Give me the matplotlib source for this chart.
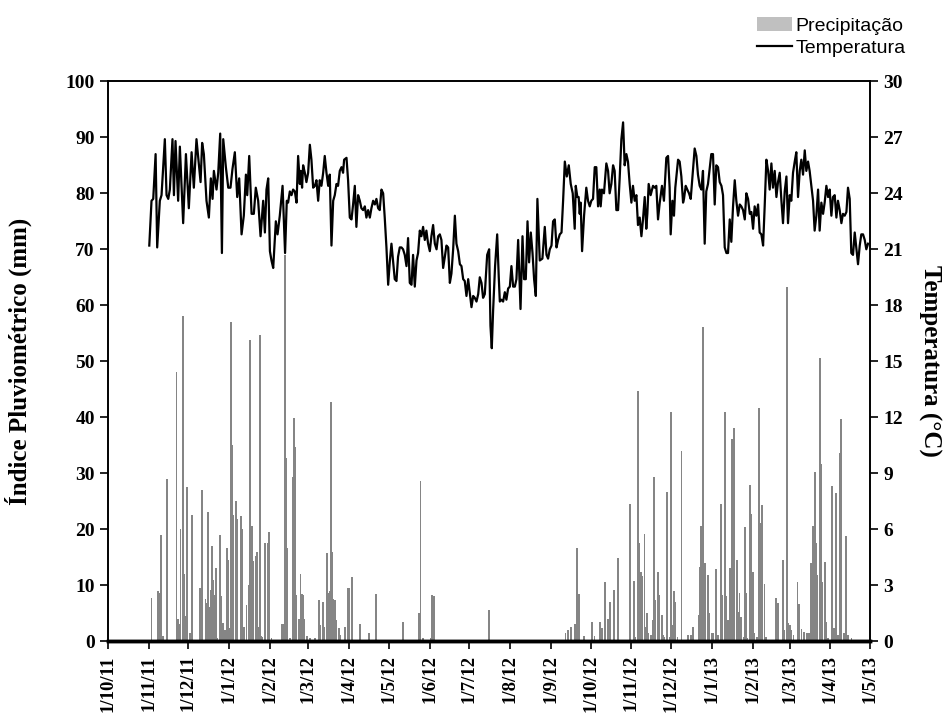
import pandas as pd
import matplotlib
matplotlib.use("Agg")
import matplotlib.pyplot as plt
from matplotlib.patches import Patch
from matplotlib.lines import Line2D

inicio = pd.Timestamp("2011-11-01")

# precipitação diária (mm), dias contados a partir de 1/11/11
chuva_dia = [2, 7, 8, 9, 11, 14, 21, 22, 23, 24, 26, 27, 28, 29, 31, 33, 35, 39, 40,
             43, 44, 45, 46, 47, 48, 49, 50, 51, 52, 54, 55, 56, 58, 59, 60, 61, 62, 63,
             64, 66, 67, 70, 71, 72, 74, 76, 77, 78, 79, 81, 82, 83, 84, 85, 86, 88, 90,
             91, 93, 101, 102, 103, 104, 105, 107, 109, 110, 111, 112, 114, 115, 116,
             117, 118, 120, 122, 126, 129, 130, 132, 133, 135, 136, 137, 138, 139, 140,
             141, 142, 144, 145, 149, 151, 152, 154, 160, 167, 172,
             193, 205, 206, 208, 214, 215, 216, 258, 316, 318, 320, 323, 325, 326, 330,
             336, 338,
             342, 344, 346, 348, 350, 353, 356, 358, 365, 368, 369, 371, 372, 373, 374,
             376, 377, 378, 379, 381, 382, 383, 384, 386, 387, 389, 390, 391, 393, 395,
             396, 397, 398, 399, 401, 404, 405, 409, 411, 413, 417, 418, 419, 420, 422,
             424, 425, 427, 428, 430, 432, 434, 435, 437, 438, 439, 441, 442, 443, 444,
             446, 447, 448, 449, 451, 452, 453, 454, 456, 457, 458, 459, 461, 463, 464,
             465, 467, 468, 476, 477, 481, 482, 484, 485, 486, 487, 489, 492, 493, 495,
             497, 499, 501, 502, 504, 505, 506, 507, 509, 510, 511, 513, 514, 515, 518,
             520, 521, 523, 524, 525, 527, 528, 529, 530, 533]
chuva_mm = [7.7, 8.9, 8.6, 19.0, 1.0, 29.0, 48.0, 4.0, 3.0, 20.0, 58.0, 12.0, 4.5, 27.5,
            1.5, 22.5, 0.3, 9.5, 27.0,
            7.5, 6.8, 23.1, 6.2, 9.2, 17.0, 11.0, 8.3, 13.0, 0.5, 19.0, 8.0, 3.2, 2.0,
            16.6, 14.5, 2.3, 57.1, 35.0,
            22.5, 25.0, 21.8, 22.3, 20.0, 2.5, 6.5, 10.0, 53.8, 20.5, 14.3, 15.2, 16.0,
            2.6, 54.7, 1.0, 0.8, 17.5, 17.5,
            19.5, 0.5, 3.0, 3.0, 69.0, 32.7, 16.6, 0.5, 29.4, 39.8, 34.7, 8.3, 4.0, 12.1,
            8.5,
            8.2, 4.0, 1.0, 0.5, 0.5, 7.4, 2.9, 7.1, 2.6, 15.7, 8.6, 8.9, 42.8, 16.0, 7.6,
            7.3, 3.8, 2.3, 1.1, 2.6, 9.5, 9.6, 11.5, 3.0, 1.4, 8.5,
            3.5, 5.0, 28.7, 0.5, 0.5, 8.2, 8.0, 5.6, 1.5, 2.0, 2.5, 3.0, 16.7, 8.5, 1.0,
            3.5, 1.0,
            3.5, 2.3, 10.6, 4.0, 7.1, 9.2, 14.8, 0.3, 24.6, 10.8, 0.8, 44.7, 17.6, 12.4,
            11.6,
            19.2, 2.6, 5.0, 1.4, 1.1, 3.8, 29.4, 7.4, 12.3, 8.3, 4.7, 1.1, 0.8, 26.6, 0.8,
            40.9, 2.9, 8.9, 7.1, 0.8, 33.9, 0.3, 1.1, 1.1, 2.6, 4.7, 13.3, 20.6, 56.2,
            13.9,
            11.8, 5.0, 1.4, 1.4, 12.9, 1.1, 24.6, 8.3, 40.9, 8.0, 3.8, 13.1, 36.2, 2.3,
            38.0,
            14.6, 5.3, 8.6, 4.4, 0.8, 20.4, 8.6, 0.5, 27.9, 22.7, 12.4, 1.4, 0.8, 41.7,
            21.1,
            24.3, 10.3, 0.8, 7.7, 6.8, 14.5, 2.0, 63.3, 3.2, 2.9, 2.0, 1.1, 10.5, 6.7, 2.2,
            1.7, 1.4, 1.4, 14.0, 20.5, 30.2, 17.6, 11.8, 50.6, 31.6, 10.6, 14.2, 3.5, 0.5,
            27.8,
            2.3, 26.4, 1.1, 33.6, 39.7, 1.4, 0.8, 18.8, 1.1, 0.5]

# temperatura média diária (°C)
temp_dia = [0.3, 2.0, 3.3, 5.1, 6.3, 8.3, 9.6, 12.1, 13.4, 14.7, 15.9, 17.9, 19.0, 20.2,
            22.2, 23.5, 26.0, 28.1, 30.3, 32.4, 34.1, 36.1, 39.2, 40.4, 41.7, 43.7, 45.5,
            47.0, 48.3, 49.3, 51.3, 52.6, 54.1, 55.4, 56.4, 58.4, 60.2, 61.9, 63.4, 65.2,
            67.0, 68.5, 70.3, 72.0, 73.6, 74.6, 76.1, 77.9, 79.6, 81.1, 82.9, 84.7, 86.7,
            88.0, 89.2, 90.5, 91.8, 93.0, 94.3, 96.3, 97.6, 99.3, 101.4, 103.3, 104.6,
            105.6, 106.9, 108.2, 109.4, 110.7, 112.0, 113.2, 114.5, 115.2, 116.2, 117.0,
            118.3, 119.5, 120.8, 122.1, 123.3, 124.6, 125.9, 127.1, 128.4, 129.6, 130.9,
            132.2, 133.4, 134.7, 136.0, 137.2, 138.5, 139.8, 141.0, 142.3, 143.5, 144.8,
            146.1, 147.3, 148.1, 149.9, 151.1, 152.4, 153.7, 154.9, 156.2, 157.4, 158.7,
            160.0, 161.2, 162.5, 163.8, 165.0, 166.3, 167.6, 168.8, 170.1, 171.4, 172.6,
            173.9, 175.1, 176.4, 177.7, 178.9, 180.2, 181.5, 182.7, 184.0, 185.3, 186.5,
            187.8, 189.0, 190.3, 191.6, 192.8, 194.1, 195.4, 196.6, 197.9, 199.2, 200.4,
            201.7, 203.0, 204.2, 205.5, 206.7, 208.0, 209.3, 210.5, 211.8, 213.1, 214.3,
            215.6, 216.9, 218.2, 219.4, 220.7, 221.9, 223.2, 224.5, 225.7, 227.0, 228.3,
            229.5, 230.8, 232.1, 233.3, 234.6, 235.9, 237.1, 238.4, 239.6, 240.9, 242.2,
            243.4, 244.7, 246.0, 247.2, 248.5, 249.8, 251.0, 252.3, 253.5, 254.8, 256.6,
            258.1, 259.1, 260.1, 261.1, 262.6, 264.2, 265.4, 266.2, 267.4, 268.7, 270.0,
            271.2, 272.5, 273.8, 275.0, 276.3, 277.6, 278.8, 280.1, 281.9, 283.4, 284.6,
            285.9, 287.2, 288.4, 289.7, 291.0, 292.2, 293.5, 294.7, 296.5, 298.5, 300.3,
            301.6, 302.8, 304.1, 305.4, 306.6, 307.9, 309.2, 310.4, 311.7, 313.0, 314.2,
            315.5, 317.0, 318.5, 320.0, 321.5, 323.0, 323.8, 325.0, 326.0, 326.8, 327.5,
            328.6, 330.1, 331.8, 333.1, 334.4, 335.6, 336.9, 338.2, 339.4, 340.7, 342.0,
            342.7, 343.7, 345.2, 347.0, 348.3, 349.5, 350.8, 352.1, 353.3, 354.6, 355.9,
            357.1, 358.4, 359.7, 360.9, 362.2, 363.4, 364.7, 366.0, 367.2, 368.5, 369.8,
            371.0, 372.3, 373.6, 374.8, 376.1, 377.3, 378.1, 379.1, 380.6, 382.4, 383.7,
            384.9, 386.2, 387.5, 389.2, 390.7, 392.5, 393.8, 395.0, 395.8, 397.1, 398.3,
            399.3, 401.4, 402.6, 403.9, 405.2, 405.9, 407.2, 408.4, 409.7, 411.0, 412.7,
            414.0, 415.3, 416.5, 417.8, 419.1, 420.3, 421.6, 422.8, 424.1, 426.6, 427.9,
            429.2, 430.4, 431.7, 433.0, 434.3, 435.5, 436.8, 438.1, 439.3, 440.6, 441.8,
            443.1, 444.4, 445.6, 446.9, 448.2, 449.4, 450.7, 452.0, 453.2, 454.5, 455.8,
            457.0, 458.3, 459.5, 460.8, 462.1, 463.3, 464.6, 465.9, 467.1, 468.4, 469.7,
            470.9, 472.2, 473.4, 474.7, 476.0, 477.2, 478.5, 479.8, 481.0, 482.3, 483.6,
            484.8, 486.1, 487.3, 488.6, 489.9, 491.1, 492.4, 493.7, 494.9, 496.2, 497.5,
            498.7, 500.0, 501.2, 502.5, 503.8, 505.0, 506.3, 507.6, 508.8, 510.1, 511.4,
            512.6, 513.9, 515.2, 516.4, 517.7, 518.9, 520.2, 521.5, 522.7, 524.0, 525.3,
            526.5, 527.8, 529.1, 530.3, 531.6, 532.8, 534.1, 535.4, 536.6, 537.9, 539.2,
            540.4, 541.7, 543.0, 544.2, 545.5]
temp_c = [21.2, 23.6, 23.7, 26.1, 21.1, 23.6, 23.9, 26.9, 23.9, 23.7, 24.2, 26.9, 23.9, 26.8,
          23.6, 26.5, 22.4, 26.1, 23.2, 26.2, 24.3, 26.9, 24.6, 26.7, 26.1, 23.6, 22.7,
          24.8, 23.7, 25.2, 24.2, 25.1, 27.2, 20.8, 26.9, 25.4, 24.3, 24.3, 25.3, 26.2,
          23.8, 24.8, 21.8, 22.8, 25.0, 23.9, 26.0, 22.9, 22.9, 24.3, 23.6, 21.7, 23.6,
          21.9, 24.2, 24.8, 20.9, 20.4, 20.0, 22.5, 21.8, 22.8, 24.4, 20.8, 23.6,
          23.5, 24.1, 23.9, 24.2, 24.1, 23.5, 26.0, 24.5, 25.2, 24.3, 25.5,
          25.1, 24.6, 25.1, 26.6, 25.8, 24.3, 24.4, 24.7, 23.6, 24.7, 24.4,
          25.1, 26.0, 25.1, 24.4, 25.0, 21.2, 23.6, 23.9, 24.5, 24.4, 25.2,
          25.4, 25.1, 25.8, 25.9, 24.7, 22.7, 22.6, 23.4, 24.4, 22.2, 23.9,
          23.6, 23.2, 23.1, 23.3, 22.7, 23.1, 22.7, 23.2, 23.6, 23.4, 23.7,
          23.2, 23.1, 24.2, 24.0, 22.7, 21.1, 19.1, 20.3, 21.3, 20.3, 19.4,
          19.3, 20.6, 21.1, 21.1, 21.0, 20.7, 20.1, 21.6, 19.2, 19.1, 20.7,
          19.0, 20.4, 20.8, 22.0, 21.7, 22.2, 21.5, 22.0, 21.3, 20.9, 21.7,
          22.3, 21.3, 21.0, 21.7, 21.8, 21.5, 20.0, 20.6, 21.2, 21.1, 19.2,
          19.7, 21.0, 22.8, 21.3, 20.9, 20.2, 20.1, 19.4, 19.3, 18.5, 19.4,
          18.7, 17.9, 18.5, 18.4, 18.2, 18.6, 19.5, 19.2, 18.4, 18.6, 20.7,
          21.0, 16.9, 15.7, 17.7, 20.1, 21.8, 19.5, 18.2, 18.3, 18.2, 18.7,
          18.3, 18.9, 19.0, 20.1, 19.0, 19.0, 19.4, 21.5, 17.8, 21.7, 19.4,
          19.4, 22.5, 20.3, 21.9, 20.8, 19.4, 18.5, 23.7, 20.4, 20.5, 22.2,
          20.7, 20.5, 21.0, 21.2, 22.5, 22.6, 21.1, 21.5, 21.8, 21.9, 23.6,
          25.7, 24.9, 25.5, 24.5, 24.0, 22.1, 24.4, 23.8, 23.8, 22.9, 23.5,
          20.9, 22.8, 24.3, 23.6, 23.3, 23.6, 23.7, 25.4, 25.4, 23.3, 24.2,
          23.3, 24.2, 24.0, 25.6, 25.2, 24.0, 24.5, 25.5, 25.2, 23.1, 23.1,
          24.8, 26.9, 27.8, 25.5, 26.1, 25.7, 24.5, 23.5, 24.4, 23.6, 23.9,
          22.3, 22.7, 21.7, 22.6, 23.8, 22.1, 22.9, 24.5, 23.9, 24.4, 24.3,
          24.4, 22.6, 23.5, 24.4, 23.6, 25.9, 26.0, 24.3, 21.8, 23.6, 22.8,
          24.3, 25.8, 25.7, 24.9, 23.5, 23.7, 24.4, 24.2, 24.0, 23.7, 25.2,
          26.4, 26.0, 25.0, 24.4, 24.2, 25.2, 21.3, 24.1, 24.5, 26.1, 26.1,
          23.4, 25.5, 25.4, 24.6, 24.4, 23.9, 21.1, 20.8, 20.8, 22.6, 21.4,
          23.3, 24.7, 23.6, 22.8, 23.4, 23.3, 23.1, 22.6, 24.0, 23.7, 22.9,
          23.0, 22.1, 23.3, 22.8, 23.4, 21.9, 21.8, 21.2, 23.3, 25.8, 25.2,
          24.2, 25.6, 24.3, 25.2, 23.8, 24.6, 25.1, 23.6, 22.4, 24.1, 24.9,
          22.4, 23.9, 23.6, 25.1, 25.7, 26.2, 23.8, 25.2, 25.8, 25.0, 26.3,
          25.2, 25.7, 25.2, 24.4, 23.6, 22.0, 22.8, 24.2, 22.0, 23.5, 22.9,
          23.5, 24.4, 23.8, 24.2, 22.8, 23.8, 23.9, 22.7, 23.6, 23.1, 22.4,
          22.9, 22.8, 23.0, 24.3, 23.7, 20.8, 20.7, 21.9, 21.1, 20.2, 21.2,
          21.8, 21.8, 21.5, 21.0, 21.3]

meses = pd.date_range("2011-10-01", "2013-05-01", freq="MS")
rotulos = [f"1/{m.month}/{m.strftime('%y')}" for m in meses]

serif = "Liberation Serif"
sans = "Liberation Sans"

fig = plt.figure(figsize=(9.5, 7.22), dpi=100)
ax = fig.add_axes([0.1137, 0.1118, 0.8021, 0.7756])
ax2 = ax.twinx()

datas_chuva = inicio + pd.to_timedelta(chuva_dia, unit="D")
datas_temp = inicio + pd.to_timedelta(temp_dia, unit="D")

ax.bar(datas_chuva, chuva_mm, width=1.4, color="#858585", linewidth=0)
ax2.plot(datas_temp, temp_c, color="black", lw=1.6)

ax.set_xlim(meses[0], meses[-1])
ax.set_ylim(0, 100)
ax2.set_ylim(0, 30)
ax.set_yticks(range(0, 101, 10))
ax2.set_yticks(range(0, 31, 3))
ax.set_xticks(meses)
ax.set_xticklabels(rotulos, rotation=90)

for lab in ax.get_xticklabels():
    lab.set_fontfamily(serif)
    lab.set_fontweight("bold")
    lab.set_fontsize(13.5)
for lab in ax.get_yticklabels() + ax2.get_yticklabels():
    lab.set_fontfamily(serif)
    lab.set_fontweight("bold")
    lab.set_fontsize(14)

ax.tick_params(axis="both", direction="out", length=6, width=1.2)
ax2.tick_params(axis="y", direction="out", length=6, width=1.2)
ax.tick_params(axis="x", pad=4)

for a in (ax, ax2):
    for lado in ("left", "right", "top"):
        a.spines[lado].set_linewidth(1.2)
    a.spines["bottom"].set_linewidth(2.5)

ax.set_ylabel("Índice Pluviométrico (mm)", fontfamily=serif, fontweight="bold",
              fontsize=18)
ax.yaxis.set_label_coords(-0.1, 0.5)
ax2.set_ylabel("Temperatura (°C)", fontfamily=serif, fontweight="bold",
               fontsize=18, rotation=-90, va="center")
ax2.yaxis.set_label_coords(1.078, 0.5)

alcas = [Patch(facecolor="#c0c0c0", edgecolor="none"),
         Line2D([], [], color="black", lw=1.6)]
fig.legend(alcas, ["Precipitação", "Temperatura"], loc="upper right",
           bbox_to_anchor=(0.972, 1.0), frameon=False,
           prop={"family": sans, "size": 14}, handlelength=1.8,
           handletextpad=0.2, labelspacing=0.2)

fig.savefig("out.png", dpi=100)
